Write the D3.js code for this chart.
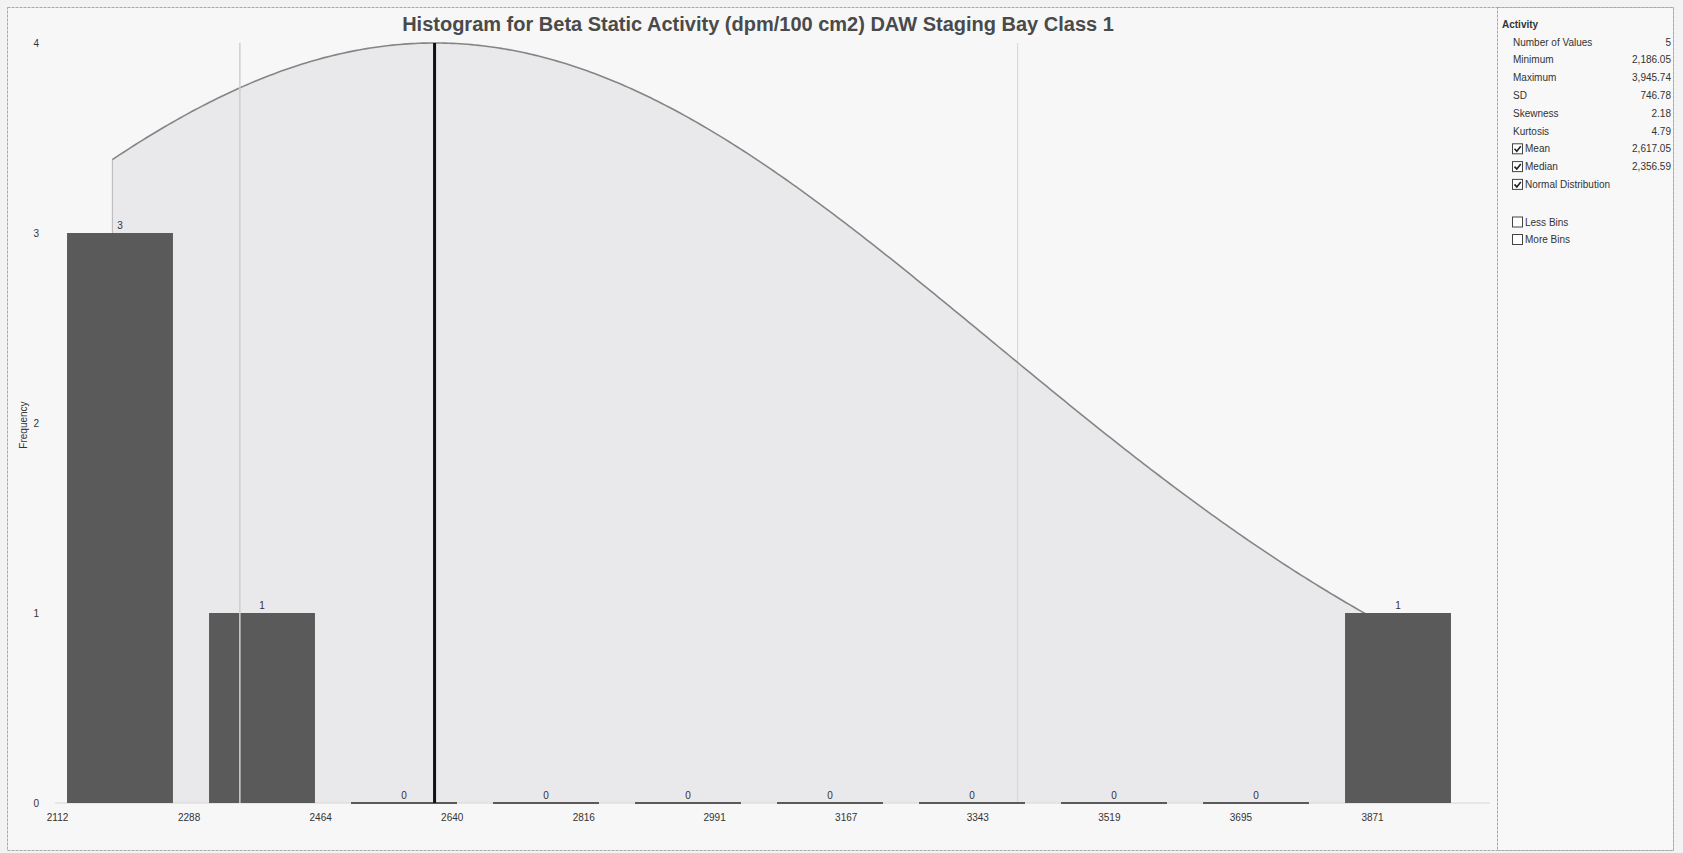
<!DOCTYPE html>
<html>
<head>
<meta charset="utf-8">
<script src="https://cdn.jsdelivr.net/npm/d3@7"></script>
<style>
  body { margin: 0; background: #f3f3f3; font-family: 'Liberation Sans', Arial, sans-serif; }
  svg text { fill: #333; }
  .tick text { font-size: 10px; fill: #333; }
  .panelText { font-size: 10px; }
</style>
</head>
<body>
<svg id="svg_hist" width="1683" height="853"></svg>
<script>
// bins and counts
const binEdges = [2112, 2288, 2464, 2640, 2816, 2991, 3167, 3343, 3519, 3695, 3871]
const binCounts = [3, 1, 0, 0, 0, 0, 0, 0, 0, 1]
const yTicks = [0, 1, 2, 3, 4]

// statistics shown in the side panel
const statLabels = ['Number of Values', 'Minimum', 'Maximum', 'SD', 'Skewness', 'Kurtosis']
const statValues = ['5', '2,186.05', '3,945.74', '746.78', '2.18', '4.79']
const checkLabels = ['Mean', 'Median', 'Normal Distribution']
const checkValues = ['2,617.05', '2,356.59', '']
const optionLabels = ['Less Bins', 'More Bins']

const minValue = 2186.05
const maxValue = 3945.74
const meanValue = 2617.05
const medianValue = 2356.59
const sdValue = 746.78
const extraLine = 3397

const svg = d3.select('#svg_hist')

const x = d3.scaleLinear().domain([binEdges[0], binEdges[binEdges.length - 1]]).range([57, 1372])
const band = d3.scaleBand().domain(d3.range(binCounts.length)).range([49, 1469]).paddingInner(0.254).paddingOuter(0.127)
const y = d3.scaleLinear().domain([0, 4]).range([803, 43])

// frame
svg.append('rect')
  .attr('x', 7.5).attr('y', 7.5).attr('width', 1666).attr('height', 843)
  .attr('fill', '#f7f7f7').attr('stroke', '#a8a8a8').attr('stroke-dasharray', '3,1')
svg.append('rect')
  .attr('x', 1497.5).attr('y', 7.5).attr('width', 176).attr('height', 843)
  .attr('fill', '#f8f8f8').attr('stroke', '#a8a8a8').attr('stroke-dasharray', '3,1')

// normal distribution curve, scaled so its peak sits on the top of the axis
const curveX = d3.range(minValue, maxValue, 5).concat([maxValue])
const normal = v => 4 * Math.exp(-0.5 * Math.pow((v - meanValue) / sdValue, 2))

const area = d3.area().x(d => x(d)).y0(y(0)).y1(d => y(normal(d)))
svg.append('path')
  .datum(curveX)
  .attr('d', area)
  .attr('fill', '#e9e9eb')

svg.append('line')
  .attr('x1', 55).attr('x2', 1490).attr('y1', y(0)).attr('y2', y(0))
  .attr('stroke', '#d6d6d6')

svg.append('line')
  .attr('x1', x(extraLine)).attr('x2', x(extraLine)).attr('y1', y(4)).attr('y2', y(0))
  .attr('stroke', '#d4d4d4')

// left edge of the curve area
svg.append('line')
  .attr('x1', x(minValue)).attr('x2', x(minValue))
  .attr('y1', y(normal(minValue))).attr('y2', y(0))
  .attr('stroke', '#b4b4b4')

svg.append('path')
  .datum(curveX)
  .attr('d', d3.line().x(d => x(d)).y(d => y(normal(d))))
  .attr('fill', 'none')
  .attr('stroke', '#858585')
  .attr('stroke-width', 1.6)

// bars
const bars = svg.append('g')
bars.selectAll('rect')
  .data(binCounts)
  .enter()
  .append('rect')
  .attr('x', (d, i) => band(i))
  .attr('width', band.bandwidth())
  .attr('y', d => d === 0 ? y(0) - 1 : y(d))
  .attr('height', d => Math.max(2, y(0) - y(d)))
  .attr('fill', '#5a5a5a')

bars.selectAll('text')
  .data(binCounts)
  .enter()
  .append('text')
  .text(d => d)
  .attr('x', (d, i) => band(i) + band.bandwidth() / 2)
  .attr('y', d => y(d) - 4)
  .attr('text-anchor', 'middle')
  .attr('font-size', 10)

// median and mean lines
svg.append('line')
  .attr('x1', x(medianValue)).attr('x2', x(medianValue)).attr('y1', y(4)).attr('y2', y(0))
  .attr('stroke', '#cfcfcf').attr('stroke-width', 1.5)

svg.append('line')
  .attr('x1', x(meanValue)).attr('x2', x(meanValue)).attr('y1', y(4)).attr('y2', y(0))
  .attr('stroke', '#111').attr('stroke-width', 3)

// axes
const xAxis = svg.append('g')
  .attr('transform', `translate(0, ${y(0)})`)
  .call(d3.axisBottom(x).tickValues(binEdges).tickFormat(d3.format('d')).tickSize(0).tickPadding(11))
xAxis.select('.domain').remove()

const yAxis = svg.append('g')
  .attr('transform', 'translate(49, 0)')
  .call(d3.axisLeft(y).tickValues(yTicks).tickFormat(d3.format('d')).tickSize(0).tickPadding(10))
yAxis.select('.domain').remove()

svg.append('text')
  .text('Frequency')
  .attr('transform', 'translate(27, 425) rotate(-90)')
  .attr('text-anchor', 'middle')
  .attr('font-size', 10)

svg.append('text')
  .text('Histogram for Beta Static Activity (dpm/100 cm2) DAW Staging Bay Class 1')
  .attr('x', 758)
  .attr('y', 31)
  .attr('text-anchor', 'middle')
  .attr('font-size', 20)
  .attr('font-weight', 'bold')
  .style('fill', '#4a4a4a')

// side panel
const panel = svg.append('g').attr('class', 'panelText')
const rowY = i => 42 + i * 17.8

panel.append('text')
  .text('Activity')
  .attr('x', 1502).attr('y', 28)
  .attr('font-weight', 'bold')

panel.selectAll('.statLabel')
  .data(statLabels)
  .enter()
  .append('text')
  .attr('class', 'statLabel')
  .text(d => d)
  .attr('x', 1513)
  .attr('y', (d, i) => rowY(i) + 3.5)

panel.selectAll('.statValue')
  .data(statValues)
  .enter()
  .append('text')
  .attr('class', 'statValue')
  .text(d => d)
  .attr('x', 1671)
  .attr('y', (d, i) => rowY(i) + 3.5)
  .attr('text-anchor', 'end')

const drawCheck = (g, cy, label, checked) => {
  g.append('rect')
    .attr('x', 1512.5).attr('y', cy - 5).attr('width', 10).attr('height', 10)
    .attr('fill', '#fff').attr('stroke', '#444')
  if (checked) {
    g.append('path')
      .attr('d', `M1514.5,${cy} L1516.8,${cy + 2.5} L1520.8,${cy - 2.5}`)
      .attr('fill', 'none').attr('stroke', '#222').attr('stroke-width', 1.6)
  }
  g.append('text').text(label).attr('x', 1525).attr('y', cy + 3.5)
}

checkLabels.forEach((label, i) => {
  const cy = rowY(statLabels.length + i)
  drawCheck(panel, cy, label, true)
  panel.append('text').text(checkValues[i]).attr('x', 1671).attr('y', cy + 3.5).attr('text-anchor', 'end')
})

optionLabels.forEach((label, i) => {
  drawCheck(panel, 222 + i * 17.5, label, false)
})
</script>
</body>
</html>
